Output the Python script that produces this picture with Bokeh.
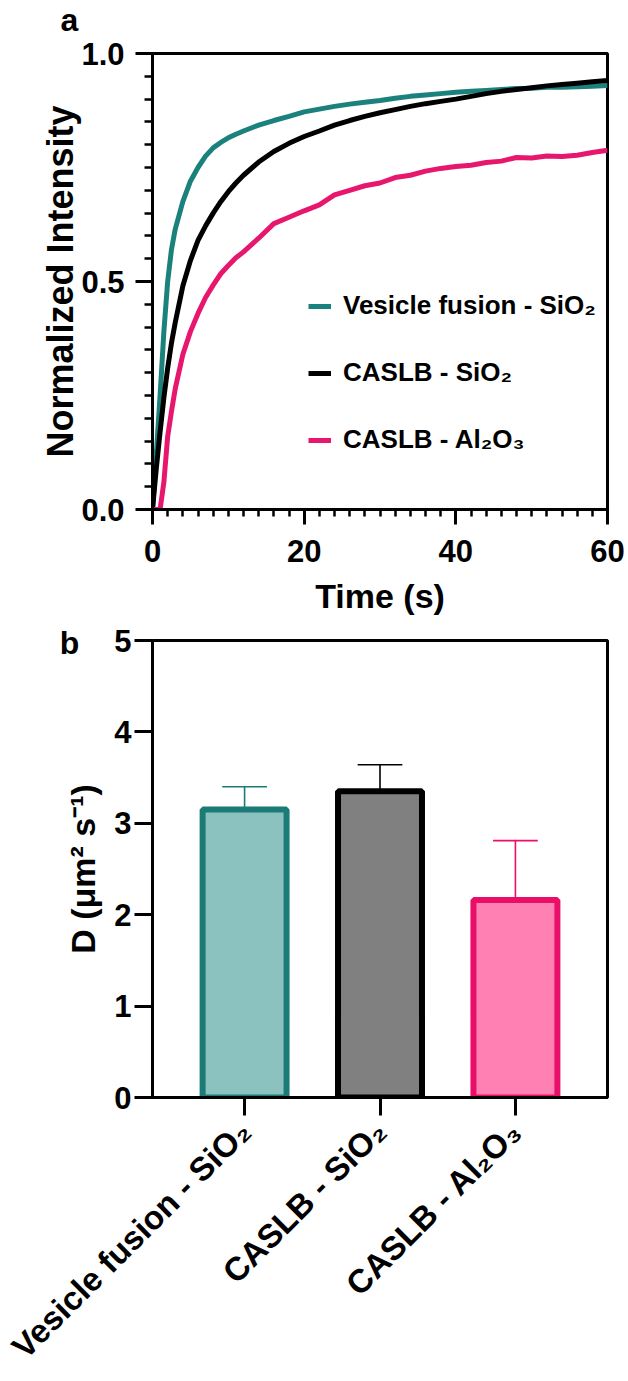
from math import pi
from bokeh.plotting import figure
from bokeh.models import FixedTicker, Legend, LegendItem, Label, ColumnDataSource
from bokeh.layouts import column
from bokeh.embed import file_html
from bokeh.resources import INLINE

# ---------------- data: panel a ----------------
time_s = [0, 0.5, 1, 1.5, 2, 2.5, 3, 4, 5, 6, 7, 8, 9, 10, 11, 12, 14, 16, 18, 20,
          22, 24, 26, 28, 30, 32, 34, 36, 38, 40, 42, 44, 46, 48, 50, 52, 54, 56, 58, 60]
vesicle_sio2 = [0, 0.12, 0.25, 0.39, 0.50, 0.57, 0.615, 0.675, 0.72, 0.75, 0.775, 0.793,
                0.805, 0.815, 0.823, 0.83, 0.843, 0.853, 0.862, 0.872, 0.878, 0.884, 0.889,
                0.893, 0.897, 0.902, 0.906, 0.909, 0.912, 0.915, 0.917, 0.919, 0.921, 0.923,
                0.924, 0.926, 0.926, 0.927, 0.928, 0.93]
caslb_sio2 = [0, 0.09, 0.17, 0.245, 0.31, 0.365, 0.41, 0.49, 0.546, 0.59, 0.622, 0.65,
              0.675, 0.697, 0.716, 0.733, 0.762, 0.785, 0.803, 0.818, 0.83, 0.843, 0.853,
              0.862, 0.87, 0.877, 0.884, 0.89, 0.895, 0.90, 0.906, 0.912, 0.917, 0.921,
              0.925, 0.929, 0.932, 0.935, 0.938, 0.941]
caslb_al2o3 = [0, 0, 0, 0.06, 0.16, 0.215, 0.265, 0.34, 0.39, 0.43, 0.465, 0.492, 0.517,
               0.535, 0.552, 0.565, 0.595, 0.627, 0.641, 0.655, 0.668, 0.69, 0.70, 0.71,
               0.716, 0.728, 0.733, 0.742, 0.748, 0.752, 0.755, 0.761, 0.764, 0.772, 0.771,
               0.775, 0.774, 0.777, 0.783, 0.788]
series_labels = ["Vesicle fusion - SiO\u2082", "CASLB - SiO\u2082", "CASLB - Al\u2082O\u2083"]

# ---------------- data: panel b ----------------
categories = ["Vesicle fusion - SiO\u2082", "CASLB - SiO\u2082", "CASLB - Al\u2082O\u2083"]
d_values = [3.15, 3.35, 2.16]
d_errors = [0.25, 0.29, 0.65]

line_colors = ["#1b817c", "#000000", "#e8176e"]
bar_fills = ["#8bc1be", "#808080", "#ff80b3"]
bar_lines = ["#1b7b76", "#000000", "#e90f69"]

FONT = "Liberation Sans"

def style_axis(ax, size_major, size_label):
    ax.axis_line_width = 3
    ax.axis_line_color = "black"
    ax.major_tick_line_width = 3
    ax.minor_tick_line_width = 2.5
    ax.major_tick_in = 0
    ax.minor_tick_in = 0
    ax.major_label_text_font = FONT
    ax.major_label_text_font_style = "bold"
    ax.major_label_text_font_size = size_major
    ax.major_label_text_color = "black"
    ax.axis_label_text_font = FONT
    ax.axis_label_text_font_style = "bold"
    ax.axis_label_text_font_size = size_label
    ax.axis_label_text_color = "black"

# ---------------- panel a ----------------
p1 = figure(width=628, height=623, x_range=(0, 60), y_range=(0, 1),
            output_backend="svg", toolbar_location=None,
            min_border_left=152, min_border_right=19, min_border_top=53, min_border_bottom=114)
p1.grid.visible = False
p1.outline_line_color = "black"
p1.outline_line_width = 3
p1.background_fill_color = "white"
p1.border_fill_color = "white"

renderers = []
for ys, col in zip([vesicle_sio2, caslb_sio2, caslb_al2o3], line_colors):
    r = p1.line(time_s, ys, line_color=col, line_width=5)
    renderers.append(r)

p1.xaxis.ticker = FixedTicker(ticks=[0, 20, 40, 60], minor_ticks=[i * 2 for i in range(31)])
p1.yaxis.ticker = FixedTicker(ticks=[0, 0.5, 1.0], minor_ticks=[i * 0.05 for i in range(21)])
p1.yaxis.major_label_overrides = {0: "0.0", 0.5: "0.5", 1: "1.0"}
style_axis(p1.xaxis[0], "31px", "34px")
style_axis(p1.yaxis[0], "31px", "36px")
p1.xaxis.major_tick_out = 15
p1.xaxis.minor_tick_out = 7
p1.yaxis.major_tick_out = 17
p1.yaxis.minor_tick_out = 8
p1.xaxis.axis_label = "Time (s)"
p1.yaxis.axis_label = "Normalized Intensity"
p1.xaxis.major_label_standoff = 15
p1.yaxis.major_label_standoff = 11
p1.xaxis.axis_label_standoff = 12
p1.yaxis.axis_label_standoff = -3

legend = Legend(items=[LegendItem(label=lab, renderers=[r]) for lab, r in zip(series_labels, renderers)],
                location=(156, 54), orientation="vertical")
legend.label_text_font = FONT
legend.label_text_font_style = "bold"
legend.label_text_font_size = "26px"
legend.label_text_color = "black"
legend.glyph_width = 23
legend.glyph_height = 30
legend.label_height = 30
legend.spacing = 36
legend.label_standoff = 12
legend.padding = 0
legend.margin = 0
legend.border_line_color = None
legend.background_fill_alpha = 0
p1.add_layout(legend)

p1.add_layout(Label(x=69, y=1, x_units="canvas", y_units="canvas", text="a", text_font=FONT,
                    text_font_style="bold", text_font_size="32px", text_align="center",
                    text_baseline="top", text_color="black"), "left")

# ---------------- panel b ----------------
xs = [i + 1 for i in range(len(categories))]
src = ColumnDataSource(dict(x=xs, top=d_values, err_top=[v + e for v, e in zip(d_values, d_errors)],
                            fill=bar_fills, line=bar_lines))

p2 = figure(width=628, height=758, x_range=(0.32, 3.68), y_range=(0, 5),
            output_backend="svg", toolbar_location=None,
            min_border_left=152, min_border_right=21, min_border_top=17, min_border_bottom=283)
p2.grid.visible = False
p2.outline_line_color = "black"
p2.outline_line_width = 3
p2.background_fill_color = "white"
p2.border_fill_color = "white"

cap = 0.165
p2.segment(x0="x", y0="top", x1="x", y1="err_top", line_color="line", line_width=1.6, source=src)
p2.segment(x0=[x - cap for x in xs], y0=src.data["err_top"], x1=[x + cap for x in xs],
           y1=src.data["err_top"], line_color=bar_lines, line_width=1.6)
p2.vbar(x="x", top="top", bottom=0, width=0.62, fill_color="fill", line_color="line",
        line_width=6, source=src)

p2.xaxis.ticker = FixedTicker(ticks=xs)
p2.xaxis.major_label_overrides = {x: c for x, c in zip(xs, categories)}
p2.xaxis.major_label_orientation = pi / 4
p2.yaxis.ticker = FixedTicker(ticks=[0, 1, 2, 3, 4, 5])
style_axis(p2.xaxis[0], "33px", "34px")
style_axis(p2.yaxis[0], "31px", "34px")
p2.xaxis.major_tick_out = 18
p2.yaxis.major_tick_out = 18
p2.xaxis.minor_tick_line_color = None
p2.yaxis.minor_tick_line_color = None
p2.yaxis.axis_label = "D (\u03bcm\u00b2 s\u207b\u00b9)"
p2.yaxis.major_label_standoff = 3
p2.xaxis.major_label_standoff = 10
p2.yaxis.axis_label_standoff = 9

p2.add_layout(Label(x=69, y=1, x_units="canvas", y_units="canvas", text="b", text_font=FONT,
                    text_font_style="bold", text_font_size="32px", text_align="center",
                    text_baseline="top", text_color="black"), "left")

layout = column(p1, p2, spacing=0)
open("out.html", "w").write(file_html(layout, INLINE))
